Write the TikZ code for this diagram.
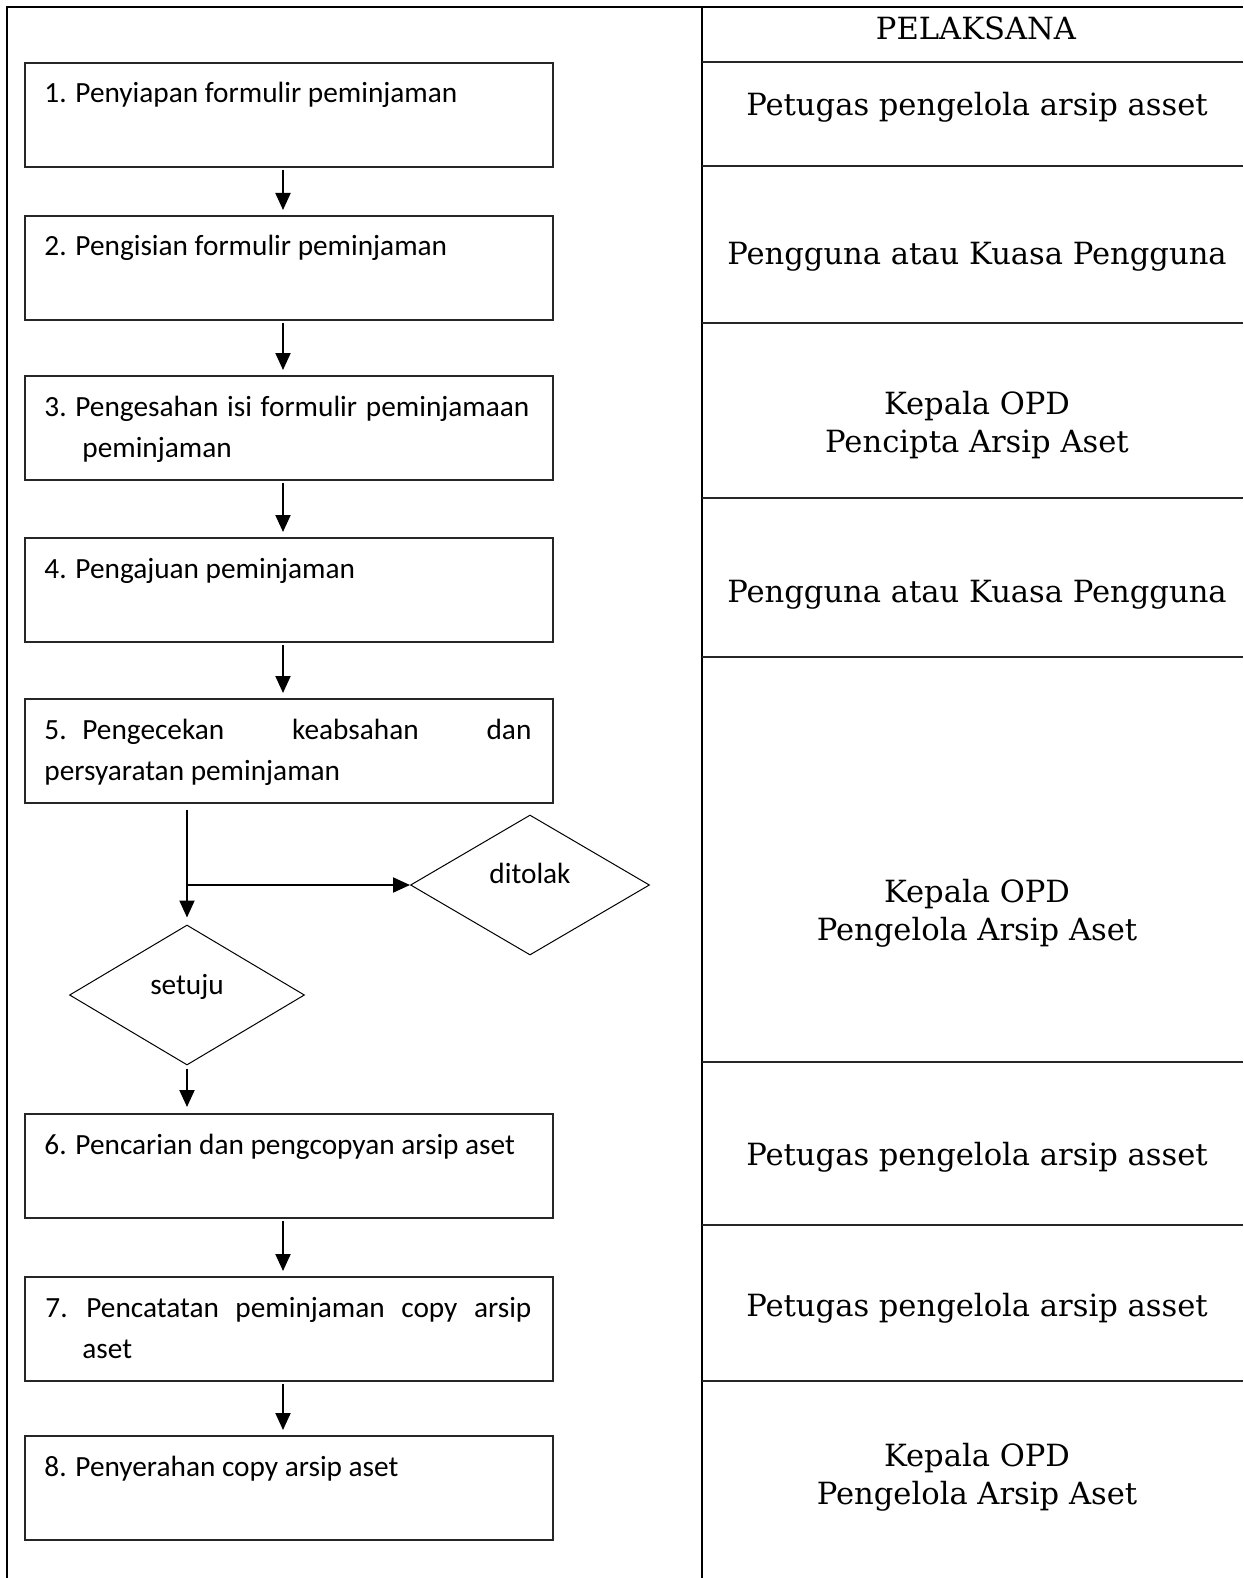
\documentclass[tikz,border=0pt]{standalone}
\usepackage{fontspec}
\setmainfont{Carlito}
\newfontfamily\rolefont{DejaVu Serif}
\usetikzlibrary{arrows.meta,shapes.geometric}
\newlength\px
\setlength\px{0.5pt}

\begin{document}
\begin{tikzpicture}[x=0.5pt,y=-0.5pt,
  frame/.style={line width=1.25pt},
  rowline/.style={line width=1pt, black!85},
  stepbox/.style={draw=black!85, line width=1pt, anchor=north west,
    minimum width=528\px, minimum height=104\px, inner sep=0},
  steptext/.style={anchor=base west, inner sep=0,
    font=\fontsize{14.65}{20.5}\selectfont},
  role/.style={inner sep=0, align=center,
    font=\rolefont\fontsize{15.3}{19}\selectfont},
  decision/.style={diamond, draw, line width=0.5pt, inner sep=0},
  choice/.style={inner sep=0, font=\fontsize{14.65}{17}\selectfont},
  flow/.style={line width=1pt, -{Triangle[length=8.5pt,width=7.5pt]}},
]
\useasboundingbox (0,0) rectangle (1243,1578);

% outer frame and the column of executors
\draw[frame] (7,1578) -- (7,7) -- (1243,7);
\draw[frame] (702,7) -- (702,1578);
\foreach \yy in {62,166,323,498,657,1062,1225,1381}
  \draw[rowline] (702,\yy) -- (1243,\yy);

% executors
\node[role] (head) at (976,28) {PELAKSANA};
\node[role] (r1) at (977,107) {Petugas pengelola arsip asset};
\node[role] (r2) at (977,257) {Pengguna atau Kuasa Pengguna};
\node[role] (r3) at (977,425) {Kepala OPD\\Pencipta Arsip Aset};
\node[role] (r4) at (977,595) {Pengguna atau Kuasa Pengguna};
\node[role] (r5) at (977,913) {Kepala OPD\\Pengelola Arsip Aset};
\node[role] (r6) at (977,1157) {Petugas pengelola arsip asset};
\node[role] (r7) at (977,1308) {Petugas pengelola arsip asset};
\node[role] (r8) at (977,1477) {Kepala OPD\\Pengelola Arsip Aset};

% process steps
\node[stepbox] (s1) at (24,62) {};
\node[stepbox] (s2) at (24,215) {};
\node[stepbox] (s3) at (24,375) {};
\node[stepbox] (s4) at (24,537) {};
\node[stepbox] (s5) at (24,698) {};
\node[stepbox] (s6) at (24,1113) {};
\node[stepbox] (s7) at (24,1276) {};
\node[stepbox] (s8) at (24,1435) {};

\node[steptext] (t1) at ([shift={(20,41)}]s1.north west)
  {1. Penyiapan formulir peminjaman};
\node[steptext] (t2) at ([shift={(20,41)}]s2.north west)
  {2. Pengisian formulir peminjaman};
\node[steptext] (t3) at ([shift={(20,41)}]s3.north west)
  {\parbox[t]{487\px}{\leavevmode\hbox to 485\px{\makebox[31\px][l]{3.}Pengesahan\hfill isi\hfill formulir\hfill peminjamaan}\\
   \hspace*{38\px}peminjaman}};
\node[steptext] (t4) at ([shift={(20,41)}]s4.north west)
  {4. Pengajuan peminjaman};
\node[steptext] (t5) at ([shift={(20,41)}]s5.north west)
  {\parbox[t]{487\px}{\leavevmode\hbox to 487\px{\makebox[38\px][l]{5.}Pengecekan\hfill keabsahan\hfill dan}\\
   persyaratan peminjaman}};
\node[steptext] (t6) at ([shift={(20,41)}]s6.north west)
  {6. Pencarian dan pengcopyan arsip aset};
\node[steptext] (t7) at ([shift={(21,41)}]s7.north west)
  {\parbox[t]{486\px}{\leavevmode\hbox to 486\px{\makebox[41\px][l]{7.}Pencatatan\hfill peminjaman\hfill copy\hfill arsip}\\
   \hspace*{37\px}aset}};
\node[steptext] (t8) at ([shift={(20,41)}]s8.north west)
  {8. Penyerahan copy arsip aset};

% decisions
\node[decision, minimum width=235\px, minimum height=140\px] (yes) at (187,995) {};
\node[decision, minimum width=239\px, minimum height=140\px] (no) at (530,885) {};
\node[choice] (yest) at ([shift={(0,-8)}]yes.center) {setuju};
\node[choice] (not) at ([shift={(0,-12)}]no.center) {ditolak};

% connectors
\coordinate (axis) at (283,0);
\draw[flow, shorten <=1pt, shorten >=2.5pt] (s1.south -| axis) -- (s2.north -| axis);
\draw[flow, shorten <=1pt, shorten >=2.5pt] (s2.south -| axis) -- (s3.north -| axis);
\draw[flow, shorten <=1pt, shorten >=2.5pt] (s3.south -| axis) -- (s4.north -| axis);
\draw[flow, shorten <=1pt, shorten >=2.5pt] (s4.south -| axis) -- (s5.north -| axis);
\draw[flow, shorten <=3pt, shorten >=3.5pt] (s5.south -| yes.north) -- (yes.north);
\draw[flow] (yes.north |- no.west) -- (no.west);
\draw[flow, shorten <=1.5pt, shorten >=3pt] (yes.south) -- (s6.north -| yes.south);
\draw[flow, shorten <=1pt, shorten >=2.5pt] (s6.south -| axis) -- (s7.north -| axis);
\draw[flow, shorten <=1pt, shorten >=2.5pt] (s7.south -| axis) -- (s8.north -| axis);
\end{tikzpicture}
\end{document}
